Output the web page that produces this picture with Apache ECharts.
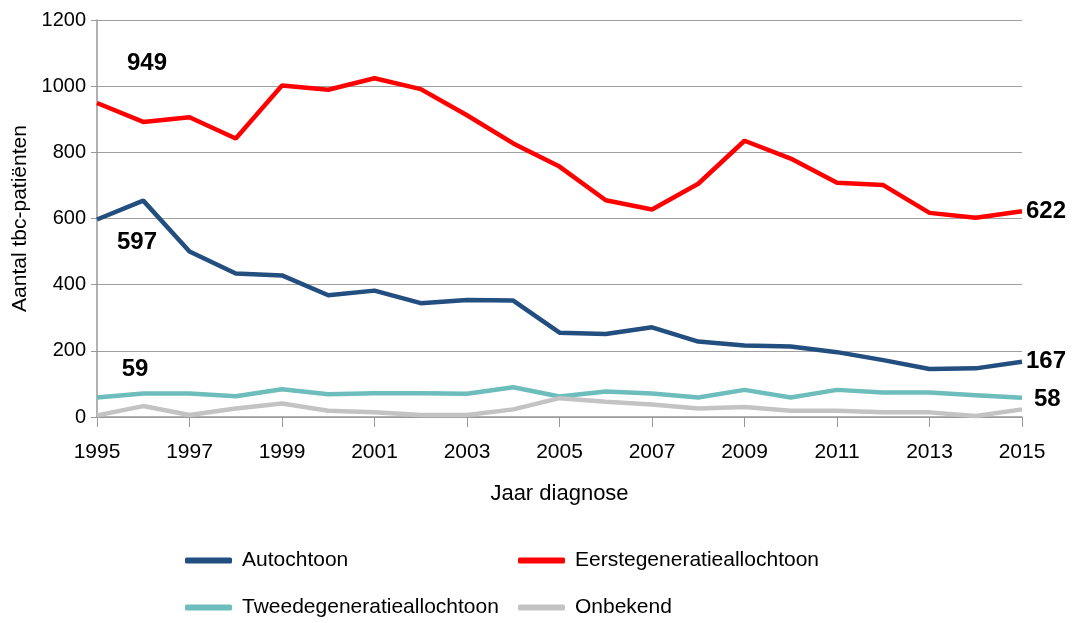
<!DOCTYPE html>
<html>
<head>
<meta charset="utf-8">
<script src="https://cdn.jsdelivr.net/npm/echarts@6/dist/echarts.min.js"></script>
<style>
  html, body { margin: 0; padding: 0; background: #fff; }
  #chart { width: 1073px; height: 623px; }
</style>
</head>
<body>
<div id="chart"></div>
<script>
// jaren en aantallen
var years = ['1995','1996','1997','1998','1999','2000','2001','2002','2003','2004','2005',
             '2006','2007','2008','2009','2010','2011','2012','2013','2014','2015'];
var autochtoon = [597,654,500,434,428,368,382,344,354,352,255,251,271,228,216,213,196,172,145,147,167];
var eersteGen  = [949,892,906,842,1002,989,1024,991,912,827,757,655,627,705,835,781,708,701,617,602,622];
var tweedeGen  = [59,71,71,63,84,69,72,72,70,90,62,77,71,59,82,59,82,74,74,66,58];
var onbekend   = [5,33,6,26,41,19,14,6,6,23,57,46,38,26,30,19,19,14,14,3,23];
var yTicks = [0,200,400,600,800,1000,1200];

var font = "'Liberation Sans Narrow', 'Liberation Sans', sans-serif";
var labelStyle = { fontFamily: font, fontSize: 24, fontWeight: 'bold', color: '#000' };

// eerste en laatste punt krijgen een label
function withLabels(values, first, last) {
    return values.map(function (v, i) {
        if (i === 0 && first) {
            return { value: v, label: Object.assign({ show: true }, labelStyle, first) };
        }
        if (i === values.length - 1 && last) {
            return { value: v, label: Object.assign({ show: true }, labelStyle, last) };
        }
        return v;
    });
}

var myChart = echarts.init(document.getElementById('chart'));

function lineSeries(name, color, data) {
    return {
        name: name,
        type: 'line',
        symbol: 'circle',
        symbolSize: 0,
        showAllSymbol: true,
        lineStyle: { width: 4.5, color: color },
        itemStyle: { color: color },
        emphasis: { disabled: true },
        label: { show: false },
        data: data
    };
}

// een legenda per item, zodat de plek vast ligt
function legendItem(name, left, top) {
    return {
        left: left, top: top, padding: 0,
        itemWidth: 47, itemHeight: 6,
        icon: 'roundRect',
        textStyle: { fontFamily: font, fontSize: 21, color: '#000', padding: [0, 0, 0, 5] },
        data: [name]
    };
}

myChart.setOption({
    animation: false,
    grid: { left: 97, right: 51, top: 20, bottom: 206, containLabel: false },
    legend: [
        legendItem('Autochtoon', 185, 550),
        legendItem('Eerstegeneratieallochtoon', 518, 550),
        legendItem('Tweedegeneratieallochtoon', 185, 597),
        legendItem('Onbekend', 518, 597)
    ],
    xAxis: {
        type: 'category',
        data: years,
        boundaryGap: false,
        name: 'Jaar diagnose',
        nameLocation: 'middle',
        nameGap: 66,
        nameTextStyle: { fontFamily: font, fontSize: 22, color: '#000' },
        axisLine: { lineStyle: { color: '#999', width: 1.5 } },
        axisTick: { interval: 1, length: 10, lineStyle: { color: '#999' } },
        axisLabel: { interval: 1, margin: 25, fontFamily: font, fontSize: 21, color: '#000' },
        splitLine: { show: false }
    },
    yAxis: {
        type: 'value',
        min: 0, max: 1200, interval: 200,
        name: 'Aantal tbc-patiënten',
        nameLocation: 'middle',
        nameGap: 66,
        nameTextStyle: { fontFamily: font, fontSize: 21, color: '#000' },
        axisLine: { show: true, lineStyle: { color: '#999', width: 1.5 } },
        axisTick: { show: true, length: 6, lineStyle: { color: '#999' } },
        axisLabel: { margin: 11, fontFamily: font, fontSize: 20, color: '#000',
            formatter: function (v) { return yTicks.indexOf(v) >= 0 ? String(v) : ''; } },
        splitLine: { lineStyle: { color: '#a0a0a0', width: 1.2 } }
    },
    series: [
        lineSeries('Autochtoon', '#234e80',
            withLabels(autochtoon, { position: 'bottom', offset: [40, 6] }, { position: 'right', distance: 4 })),
        lineSeries('Eerstegeneratieallochtoon', '#ff0000',
            withLabels(eersteGen, { position: 'top', offset: [50, -23] }, { position: 'right', distance: 4 })),
        lineSeries('Tweedegeneratieallochtoon', '#6cbdbb',
            withLabels(tweedeGen, { position: 'top', offset: [38, -11] }, { position: 'right', distance: 12, offset: [0, 2] })),
        lineSeries('Onbekend', '#c3c3c3', onbekend)
    ]
});
</script>
</body>
</html>
